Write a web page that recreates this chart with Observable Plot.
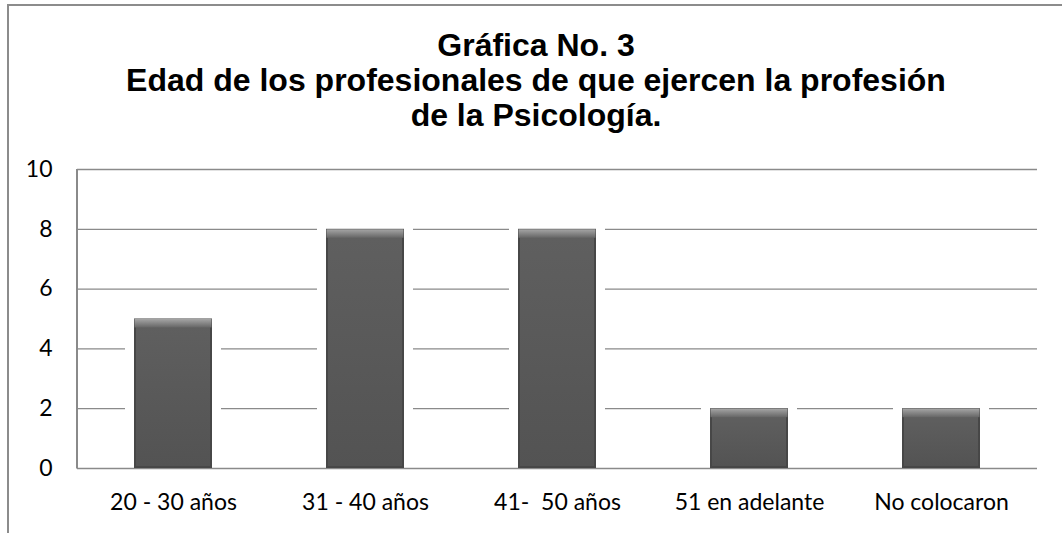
<!DOCTYPE html>
<html><head><meta charset="utf-8">
<script src="https://cdn.jsdelivr.net/npm/d3@7"></script>
<script src="https://cdn.jsdelivr.net/npm/@observablehq/plot@0.6"></script>
<style>
body{margin:0;background:#fff;width:1062px;height:533px;overflow:hidden;position:relative;}
#frame{position:absolute;left:7px;top:4px;width:1200px;height:700px;border-left:2px solid #8c8c8c;border-top:2px solid #8c8c8c;}
#title{position:absolute;left:0;top:0;width:1072px;text-align:center;font-family:"Liberation Sans",Arial,sans-serif;font-weight:bold;font-size:32px;line-height:35px;padding-top:28px;color:#000;margin:0}
#chart{position:absolute;left:0;top:150px;}
#chart svg text{white-space:pre;}
</style></head>
<body>
<div id="frame"></div>
<h1 id="title">Gráfica No. 3<br>Edad de los profesionales de que ejercen la profesión<br>de la Psicología.</h1>
<div id="chart"></div>
<script>
const categories = ["20 - 30 años", "31 - 40 años", "41-  50 años", "51 en adelante", "No colocaron"];
const values = [5, 8, 8, 2, 2];
const yTicks = [0, 2, 4, 6, 8, 10];

const data = categories.map((c, i) => ({category: c, value: values[i]}));
const grid = yTicks.filter(t => t > 0);

const chart = Plot.plot({
  width: 1062,
  height: 383,
  marginTop: 19,
  marginBottom: 65,
  marginLeft: 77,
  marginRight: 25,
  style: {fontFamily: "Lato, 'Open Sans', sans-serif", fontSize: "23px", color: "#000", background: "transparent"},
  x: {domain: categories, padding: 0, label: null},
  y: {domain: [0, 10], ticks: yTicks, label: null},
  marks: [
    Plot.ruleY(grid, {stroke: "#8a8a8a", strokeWidth: 1.3}),
    // white glow around bars
    Plot.barY(data, {x: "category", y: "value", fill: "white", insetLeft: 48, insetRight: 48, insetTop: -2}),
    Plot.ruleY([0], {stroke: "#8a8a8a", strokeWidth: 1.5}),
    // bar body (edges)
    Plot.barY(data, {x: "category", y: "value", fill: "#474747", insetLeft: 57, insetRight: 57}),
    // bar face
    Plot.barY(data, {x: "category", y: "value", fill: "url(#face)", insetLeft: 59, insetRight: 59, insetTop: 8, insetBottom: 2}),
    // top bevel
    Plot.barY(data, {x: "category", y1: "value", y2: "value", fill: "url(#bevel)", insetLeft: 57.5, insetRight: 57.5, insetTop: 0.5, insetBottom: -9}),
    Plot.axisY({ticks: yTicks, tickSize: 0, tickPadding: 25, fontSize: 23}),
    Plot.axisX({tickSize: 0, tickPadding: 25, fontSize: 23})
  ]
});

// left axis line
const svg = d3.select(chart);
svg.append("line").attr("x1", 77).attr("x2", 77).attr("y1", 19).attr("y2", 318.5)
  .attr("stroke", "#8a8a8a").attr("stroke-width", 2);

const defs = svg.insert("defs", ":first-child");
const bevel = defs.append("linearGradient").attr("id", "bevel").attr("x1", 0).attr("x2", 0).attr("y1", 0).attr("y2", 1);
bevel.append("stop").attr("offset", "0%").attr("stop-color", "#a5a5a5");
bevel.append("stop").attr("offset", "100%").attr("stop-color", "#666666");
const face = defs.append("linearGradient").attr("id", "face").attr("x1", 0).attr("x2", 0).attr("y1", 0).attr("y2", 1);
face.append("stop").attr("offset", "0%").attr("stop-color", "#5f5f5f");
face.append("stop").attr("offset", "100%").attr("stop-color", "#535353");

document.getElementById("chart").appendChild(chart);
</script>
</body></html>
